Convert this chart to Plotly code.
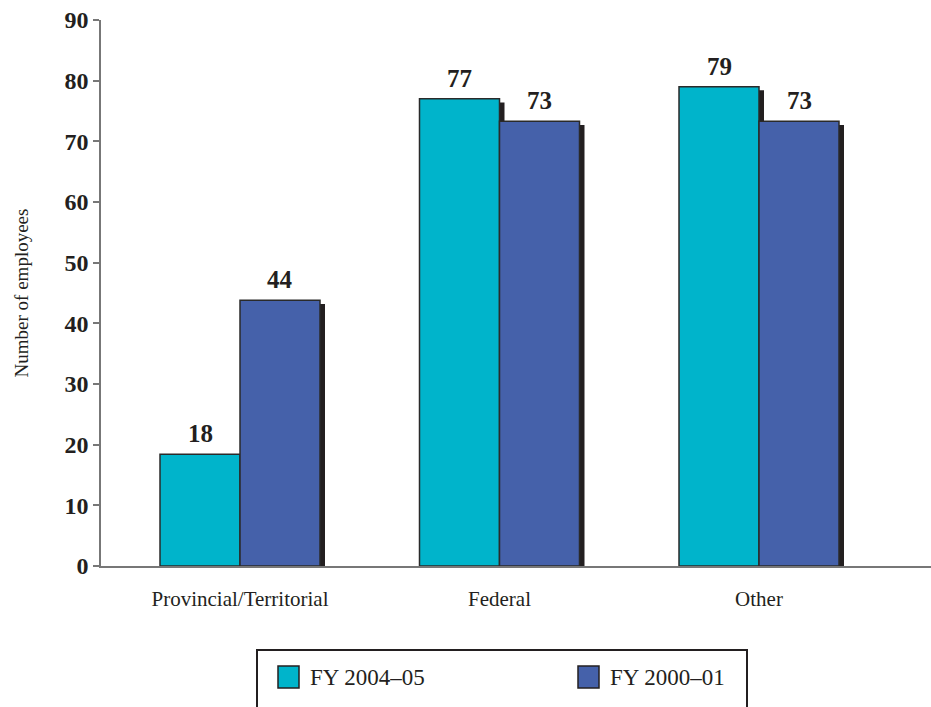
import plotly.graph_objects as go

categories = ["Provincial/Territorial", "Federal", "Other"]
series_names = ["FY 2004–05", "FY 2000–01"]
fy2004 = [18.4, 77, 79]
fy2000 = [43.8, 73.3, 73.3]
labels2004 = ["18", "77", "79"]
labels2000 = ["44", "73", "73"]
y_ticks = [0, 10, 20, 30, 40, 50, 60, 70, 80, 90]

CYAN = "#00B4CB"
BLUE = "#4561AA"
SHADOW = "#231F20"
OUTLINE = "#2a2a2a"
FONT = "Liberation Serif"

W, H = 931, 707
L, R, T, B = 101, 0, 20, 141
px_per_unit = 259.5
xr0 = -(240 - L) / px_per_unit
xr1 = xr0 + (W - L - R) / px_per_unit
bw = 80 / px_per_unit
sh_dx = 5 / px_per_unit
sh_dy = 0.6

xs = list(range(len(categories)))
fig = go.Figure()

for vals, off in [(fy2004, -bw), (fy2000, 0)]:
    fig.add_trace(go.Bar(x=xs, y=[v - sh_dy for v in vals], width=bw, offset=off + sh_dx,
                         marker=dict(color=SHADOW, line=dict(width=0)),
                         showlegend=False, hoverinfo="skip"))
    color = CYAN if off < 0 else BLUE
    fig.add_trace(go.Bar(x=xs, y=vals, width=bw, offset=off,
                         marker=dict(color=color, line=dict(color=OUTLINE, width=1.5)),
                         showlegend=False))

annotations = []
for vals, labs, off in [(fy2004, labels2004, -bw / 2), (fy2000, labels2000, bw / 2)]:
    for x, v, t in zip(xs, vals, labs):
        annotations.append(dict(x=x + off, y=v, text="<b>%s</b>" % t, showarrow=False, yanchor="bottom",
                                yshift=5, font=dict(family=FONT, size=25, color="#231F20")))

# legend drawn manually
def px2paper(px, py):
    return (px - L) / (W - L - R), (H - B - py) / (H - T - B)

shapes = []
bx0, by0 = px2paper(257, 650)
bx1, by1 = px2paper(747, 712)
shapes.append(dict(type="rect", xref="paper", yref="paper", x0=bx0, y0=by1, x1=bx1, y1=by0,
                   line=dict(color="#231F20", width=2), fillcolor="rgba(0,0,0,0)", layer="above"))
for (sx, col, name) in [(278, CYAN, series_names[0]), (578, BLUE, series_names[1])]:
    a0, b0 = px2paper(sx, 666)
    a1, b1 = px2paper(sx + 21, 688)
    shapes.append(dict(type="rect", xref="paper", yref="paper", x0=a0, y0=b1, x1=a1, y1=b0,
                       line=dict(color="#231F20", width=1.5), fillcolor=col, layer="above"))
    tx, ty = px2paper(sx + 30, 677)
    annotations.append(dict(xref="paper", yref="paper", x=tx, y=ty, xanchor="left", yanchor="middle",
                            text=name, showarrow=False, font=dict(family=FONT, size=23, color="#231F20")))

fig.update_layout(
    width=W, height=H, margin=dict(l=L, r=R, t=T, b=B),
    plot_bgcolor="white", paper_bgcolor="white",
    barmode="overlay", showlegend=False,
    annotations=annotations, shapes=shapes,
    font=dict(family=FONT, color="#231F20"),
    xaxis=dict(range=[xr0, xr1], tickvals=xs, ticktext=categories, showgrid=False, zeroline=False,
               showline=True, linecolor="#777777", linewidth=2, ticks="",
               tickfont=dict(family=FONT, size=21, color="#231F20"), ticklabelstandoff=13),
    yaxis=dict(range=[0, 90], tickvals=y_ticks, showgrid=False, zeroline=False,
               showline=True, linecolor="#777777", linewidth=1.5, ticks="outside", ticklen=6,
               tickcolor="#777777", tickwidth=1.5,
               tickfont=dict(family=FONT, size=24, color="#231F20", weight="bold"),
               title=dict(text="Number of employees", font=dict(family=FONT, size=19, color="#231F20"),
                          standoff=31)),
)

fig.write_html("out.html")
